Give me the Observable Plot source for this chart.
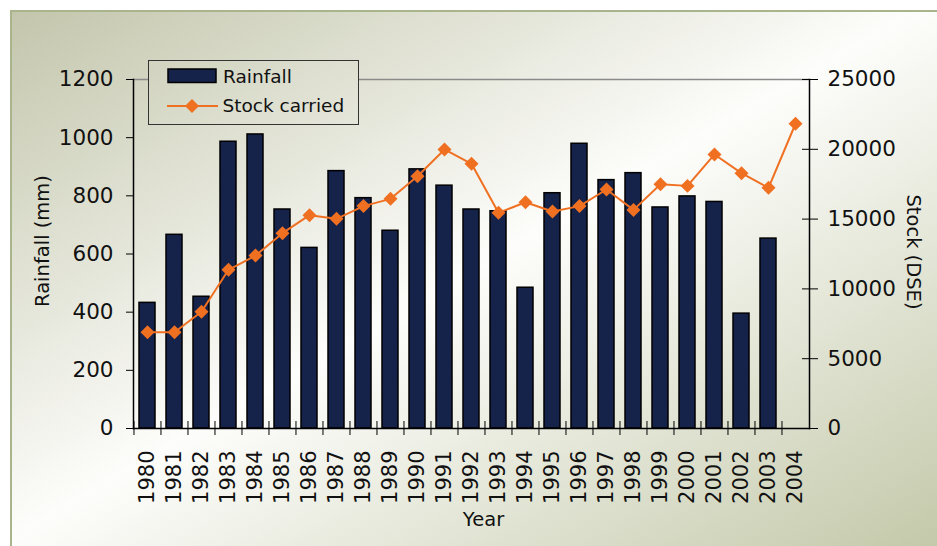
<!DOCTYPE html>
<html><head><meta charset="utf-8">
<script src="https://cdn.jsdelivr.net/npm/d3@7"></script>
<script src="https://cdn.jsdelivr.net/npm/@observablehq/plot@0.6"></script>
<style>
body{margin:0;background:#fff;}
#wrap{position:relative;width:937px;height:546px;overflow:hidden;font-family:"DejaVu Sans",sans-serif;}
.bg{background:linear-gradient(to bottom right,#c1c4a9 0%,#fdfdfb 50%,#c4c9aa 100%) fixed;}
#frame{position:absolute;left:10px;top:10px;right:0;bottom:0;border-left:2px solid #aab48c;border-top:2px solid #aab48c;}
#chart{position:absolute;left:0;top:0;}
#legend{position:absolute;left:148px;top:60px;width:211px;height:65px;box-sizing:border-box;border:1px solid #333;}
#legend svg{position:absolute;left:-1px;top:-1px;}
</style>
</head><body>
<div id="wrap">
  <div id="frame" class="bg"></div>
  <div id="chart"></div>
  <div id="legend" class="bg"></div>
</div>
<script>
const years = ["1980","1981","1982","1983","1984","1985","1986","1987","1988","1989","1990","1991","1992","1993","1994","1995","1996","1997","1998","1999","2000","2001","2002","2003","2004"];
const rainfall = [432,666,453,986,1011,753,621,885,792,680,891,835,753,747,484,809,979,854,878,760,798,779,395,653,null];
const stock = [6900,6900,8360,11370,12390,13990,15280,15020,15930,16450,18070,19990,18960,15450,16210,15540,15930,17120,15660,17500,17380,19630,18290,17240,21830];
const rainTicks = [0,200,400,600,800,1000,1200];
const stockTicks = [0,5000,10000,15000,20000,25000];
const rainMax = 1200, stockMax = 25000;
const k = rainMax / stockMax;

const rows = years.map((y, i) => ({year: y, rain: rainfall[i], stock: stock[i]}));

const W = 937, H = 546, mL = 133, mR = 128, mT = 79, mB = 118;
const step = (W - mL - mR) / years.length;
const navy = "#15224a", orange = "#f07022";

const chart = Plot.plot({
  width: W, height: H,
  marginLeft: mL, marginRight: mR, marginTop: mT, marginBottom: mB,
  style: {background: "transparent", fontFamily: "'DejaVu Sans', sans-serif", color: "#000"},
  x: {type: "band", domain: years, paddingInner: 0.42, paddingOuter: 0.21, axis: null},
  y: {domain: [0, rainMax], axis: null},
  marks: [
    Plot.barY(rows.filter(d => d.rain != null), {x: "year", y: "rain", fill: navy, stroke: "#000", strokeWidth: 1.5}),
    Plot.frame({anchor: "top", stroke: "#8a8a8a", strokeWidth: 1.5}),
    Plot.frame({anchor: "left", stroke: "#000", strokeWidth: 1.5}),
    Plot.frame({anchor: "right", stroke: "#000", strokeWidth: 1.5}),
    Plot.frame({anchor: "bottom", stroke: "#000", strokeWidth: 1.5}),
    Plot.axisY(rainTicks, {anchor: "left", tickSize: 7, tickPadding: 13, fontSize: 21.5, tickFormat: d => String(d), label: null, fill: "#111"}),
    Plot.axisY(stockTicks.map(v => v * k), {anchor: "right", tickSize: 16, insetRight: 8, tickFormat: () => "", label: null}),
    Plot.axisY(stockTicks.map(v => v * k), {anchor: "right", tickSize: 0, tickPadding: 18, fontSize: 21.5, tickFormat: d => String(Math.round(d / k)), label: null, fill: "#111"}),
    Plot.axisX(years, {anchor: "bottom", tickSize: 14, insetBottom: 7, dx: -step / 2, tickFormat: () => "", label: null}),
    Plot.axisX(years, {anchor: "bottom", tickSize: 0, tickPadding: 22, tickRotate: -90, fontSize: 21, label: null, fill: "#111"}),
    Plot.line(rows, {x: "year", y: d => d.stock * k, stroke: orange, strokeWidth: 2}),
    Plot.dot(rows, {x: "year", y: d => d.stock * k, symbol: "diamond2", r: 6.3, fill: orange, stroke: "none"}),
    Plot.text(["Rainfall (mm)"], {text: d => d, frameAnchor: "left", dx: -91, dy: -13, rotate: -90, fontSize: 19.5, textAnchor: "middle", fill: "#111"}),
    Plot.text(["Year"], {text: d => d, frameAnchor: "bottom", dx: 12, dy: 97, fontSize: 19.5, textAnchor: "middle", fill: "#111"}),
    Plot.text(["Stock (DSE)"], {text: d => d, frameAnchor: "right", dx: 104, dy: -2, rotate: 90, fontSize: 19.5, textAnchor: "middle", fill: "#111"})
  ]
});
document.getElementById("chart").appendChild(chart);

// legend
const legendItems = ["Rainfall", "Stock carried"];
const lg = d3.select("#legend").append("svg").attr("width", 211).attr("height", 65)
  .style("font-family", "'DejaVu Sans', sans-serif").style("font-size", "18.5px");
lg.append("rect").attr("x", 20).attr("y", 9).attr("width", 48).attr("height", 13.5)
  .attr("fill", navy).attr("stroke", "#000").attr("stroke-width", 1.5);
lg.append("text").attr("x", 75).attr("y", 22.5).attr("fill", "#111").text(legendItems[0]);
lg.append("line").attr("x1", 19).attr("x2", 70).attr("y1", 46).attr("y2", 46)
  .attr("stroke", orange).attr("stroke-width", 2);
lg.append("path").attr("d", "M44,39 L51,46 L44,53 L37,46 Z").attr("fill", orange);
lg.append("text").attr("x", 74.5).attr("y", 52).attr("fill", "#111").text(legendItems[1]);
</script>
</body></html>
